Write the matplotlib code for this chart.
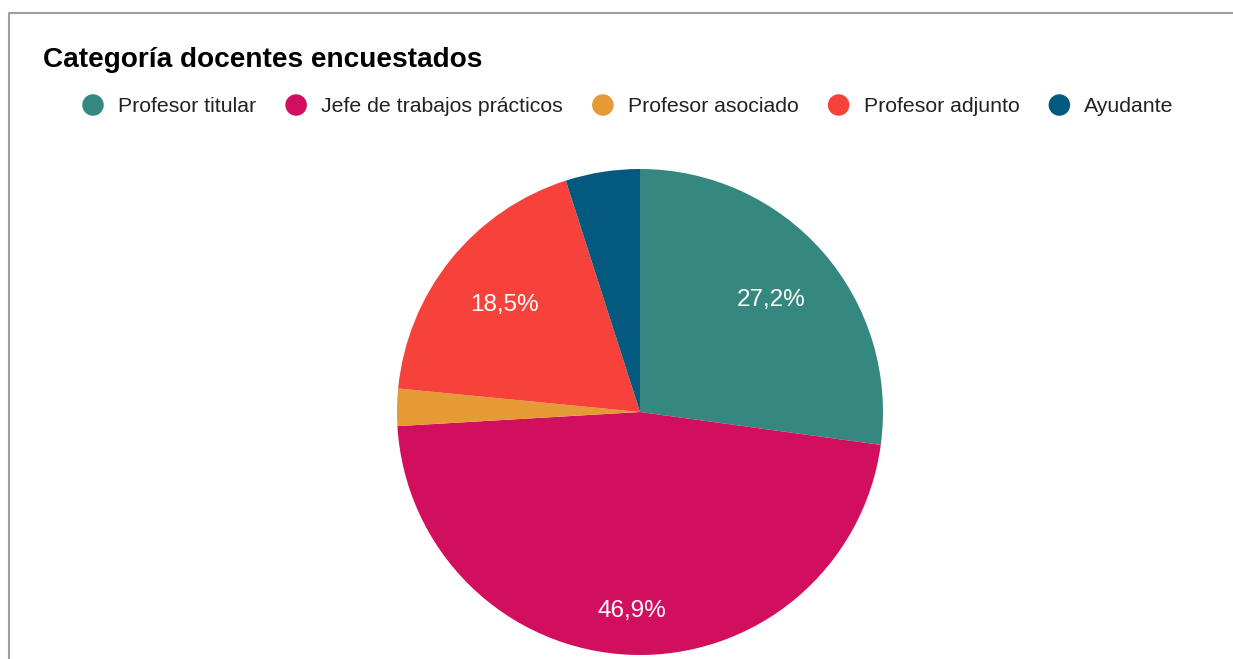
import matplotlib
matplotlib.use("Agg")
import matplotlib.pyplot as plt
from matplotlib.lines import Line2D
import numpy as np

plt.rcParams['font.family'] = ['Liberation Sans', 'DejaVu Sans']

# datos
categorias = ['Profesor titular', 'Jefe de trabajos prácticos', 'Profesor asociado',
              'Profesor adjunto', 'Ayudante']
cantidades = [22, 38, 2, 15, 4]
colores = ['#358880', '#d20f5e', '#e59a36', '#f6423a', '#035a7e']
titulo = 'Categoría docentes encuestados'

W, H = 1233, 659
fig = plt.figure(figsize=(W / 100, H / 100), dpi=100)
ax = fig.add_axes([0, 0, 1, 1])

# torta
cx, cy, r = 640, H - 412, 243
wedges, _ = ax.pie(cantidades, colors=colores, startangle=90, counterclock=False,
                   center=(cx, cy), radius=r, frame=True,
                   wedgeprops=dict(linewidth=0))
ax.set_xlim(0, W)
ax.set_ylim(0, H)
ax.set_aspect('equal')
ax.axis('off')

# marco gris
ax.add_line(Line2D([8.5, 8.5, W], [0, H - 12.5, H - 12.5], color='#9e9e9e', lw=1.5))

total = sum(cantidades)
for w, v in zip(wedges, cantidades):
    p = v / total * 100
    if p < 10:
        continue
    ang = np.deg2rad((w.theta1 + w.theta2) / 2)
    d = 0.81 if p > 40 else 0.715
    ax.text(cx + d * r * np.cos(ang), cy + d * r * np.sin(ang) - 2,
            f'{p:.1f}%'.replace('.', ','), color='white', fontsize=17.5,
            ha='center', va='center')

# titulo
ax.text(43, H - 60, titulo, fontsize=20.2, fontweight='bold', color='#000000',
        ha='left', va='center')

# leyenda manual
fig.canvas.draw()
rend = fig.canvas.get_renderer()
x = 93
ly = H - 105
for nom, col in zip(categorias, colores):
    ax.scatter([x], [ly], s=240, color=col, edgecolors='none')
    t = ax.text(x + 25, ly - 2, nom, fontsize=15.3, color='#222222', ha='left', va='center')
    bb = t.get_window_extent(renderer=rend)
    x = bb.x1 + 40

fig.savefig('out.png', dpi=100)
